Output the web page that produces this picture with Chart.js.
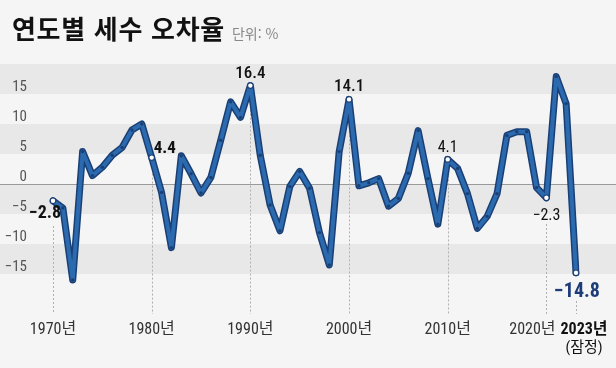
<!DOCTYPE html>
<html lang="ko">
<head>
<meta charset="utf-8">
<script src="https://cdn.jsdelivr.net/npm/chart.js@4/dist/chart.umd.min.js"></script>
<style>
  html, body { margin: 0; padding: 0; background: #f5f5f5; }
  #wrap { position: relative; width: 616px; height: 368px; }
  #title {
    position: absolute; left: 12px; top: 9px; white-space: nowrap;
    font-family: 'Noto Sans CJK KR', sans-serif; color: #111;
  }
  #title b { font-size: 26px; font-weight: 700; letter-spacing: 0.7px; }
  #title span { font-size: 14px; color: #888; margin-left: 7px; }
  canvas { position: absolute; left: 0; top: 0; }
</style>
</head>
<body>
<div id="wrap">
  <canvas id="chart" width="616" height="368"></canvas>
  <div id="title"><b>연도별 세수 오차율</b><span>단위: %</span></div>
</div>
<script>
// Data
const years = [
  1970, 1971, 1972, 1973, 1974, 1975, 1976, 1977, 1978, 1979,
  1980, 1981, 1982, 1983, 1984, 1985, 1986, 1987, 1988, 1989,
  1990, 1991, 1992, 1993, 1994, 1995, 1996, 1997, 1998, 1999,
  2000, 2001, 2002, 2003, 2004, 2005, 2006, 2007, 2008, 2009,
  2010, 2011, 2012, 2013, 2014, 2015, 2016, 2017, 2018, 2019,
  2020, 2021, 2022, 2023
];
const values = [
  -2.8, -4.0, -16.0, 5.4, 1.4, 2.8, 4.8, 6.1, 9.0, 10.0,
  4.4, -1.4, -10.6, 4.7, 1.7, -1.5, 1.1, 7.3, 13.7, 11.1,
  16.4, 4.8, -3.5, -7.8, -0.4, 2.1, -0.7, -8.1, -13.5, 5.4,
  14.1, -0.3, 0.2, 0.9, -3.7, -2.4, 1.8, 8.9, 0.9, -6.7,
  4.1, 2.6, -1.6, -7.4, -5.4, -1.6, 8.1, 8.7, 8.7, -0.6,
  -2.3, 17.9, 13.4, -14.8
];
// Years marked with a guide line and a value label
const noteYears = [1970, 1980, 1990, 2000, 2010, 2020, 2023];
const tickYears = [1970, 1980, 1990, 2000, 2010, 2020, 2023];
const tickLabels = ['1970년', '1980년', '1990년', '2000년', '2010년', '2020년', '2023년'];
const tickNote = '(잠정)';

const FONT = "'Liberation Sans Narrow', 'Roboto Condensed', 'DejaVu Sans Condensed', 'Noto Sans CJK KR', sans-serif";
const fmt = v => String(v).replace('-', '−');

// how each value label sits next to its point
const noteLayout = {
  1970: { dx: -8, dy: 17, align: 'center', font: 'bold 18px', color: '#111', guideFrom: 226 },
  1980: { dx: 2, dy: -5, align: 'left', font: 'bold 17px', color: '#111' },
  1990: { dx: 0, dy: -8, align: 'center', font: '500 17px', color: '#111' },
  2000: { dx: 0, dy: -8, align: 'center', font: '500 17px', color: '#111' },
  2010: { dx: 0, dy: -7, align: 'center', font: '16px', color: '#111' },
  2020: { dx: 0, dy: 22, align: 'center', font: '16px', color: '#111', guideFrom: 224 },
  2023: { dx: 1, dy: 24, align: 'center', font: 'bold 20px', color: '#1d3c78', guideFrom: 301 }
};
const tickShift = { 2020: -14, 2023: 8 };

const decor = {
  id: 'decor',
  beforeDraw(chart) {
    const { ctx, scales: { x, y } } = chart;
    const w = chart.width;
    ctx.save();
    ctx.fillStyle = '#f5f5f5';
    ctx.fillRect(0, 0, w, chart.height);
    // alternating bands
    ctx.fillStyle = '#e8e8e8';
    for (let v = 20; v > -20; v -= 10) {
      const t = y.getPixelForValue(v);
      const b = y.getPixelForValue(v - 5);
      ctx.fillRect(0, t, w, b - t);
    }
    // zero line
    const z = Math.round(y.getPixelForValue(0)) + 0.5;
    ctx.strokeStyle = '#9a9a9a';
    ctx.lineWidth = 1;
    ctx.beginPath();
    ctx.moveTo(0, z);
    ctx.lineTo(w, z);
    ctx.stroke();
    // dashed guides
    ctx.setLineDash([2, 2]);
    ctx.strokeStyle = '#b0b0b0';
    noteYears.forEach(yr => {
      const i = years.indexOf(yr);
      const px = Math.round(x.getPixelForValue(i)) + 0.5;
      const lay = noteLayout[yr];
      const from = lay.guideFrom || y.getPixelForValue(values[i]);
      ctx.beginPath();
      ctx.moveTo(px, from);
      ctx.lineTo(px, 314);
      ctx.stroke();
    });
    ctx.restore();
  },
  afterDatasetsDraw(chart) {
    const { ctx, scales: { x, y } } = chart;
    ctx.save();
    // value labels
    noteYears.forEach(yr => {
      const i = years.indexOf(yr);
      const lay = noteLayout[yr];
      ctx.font = lay.font + ' ' + FONT;
      ctx.fillStyle = lay.color;
      ctx.textAlign = lay.align;
      ctx.textBaseline = 'alphabetic';
      ctx.fillText(fmt(values[i]), x.getPixelForValue(i) + lay.dx, y.getPixelForValue(values[i]) + lay.dy);
    });
    // year labels
    ctx.textAlign = 'center';
    tickYears.forEach((yr, k) => {
      const i = years.indexOf(yr);
      const px = x.getPixelForValue(i) + (tickShift[yr] || 0);
      const last = k === tickYears.length - 1;
      ctx.font = (last ? 'bold ' : '') + '16px ' + FONT;
      ctx.fillStyle = last ? '#111' : '#333';
      ctx.fillText(tickLabels[k], px, 334);
      if (last) {
        ctx.font = '15px ' + FONT;
        ctx.fillText(tickNote, px, 352);
      }
    });
    ctx.restore();
  }
};

const isNote = c => noteYears.includes(years[c.dataIndex]);

new Chart(document.getElementById('chart'), {
  type: 'line',
  data: {
    labels: years,
    datasets: [
      {
        // inner lighter stroke with vertex marks (drawn on top)
        data: values,
        order: 0,
        borderColor: '#2b6aaf',
        borderWidth: 4,
        borderJoinStyle: 'round',
        pointRadius: c => isNote(c) ? 2.8 : 1.7,
        pointBackgroundColor: c => isNote(c) ? '#ffffff' : '#1a3f74',
        pointBorderColor: '#1a3f74',
        pointBorderWidth: c => isNote(c) ? 1.2 : 0,
        tension: 0
      },
      {
        // dark outline
        data: values,
        order: 1,
        borderColor: '#1a3f74',
        borderWidth: 7,
        borderJoinStyle: 'round',
        borderCapStyle: 'round',
        pointRadius: 0,
        tension: 0
      }
    ]
  },
  options: {
    responsive: false,
    animation: false,
    layout: { padding: { top: 64, bottom: 64, left: 0, right: 40 } },
    plugins: { legend: { display: false }, tooltip: { enabled: false } },
    scales: {
      x: { display: false, offset: false },
      y: {
        min: -20,
        max: 20,
        afterFit: s => { s.width = 53; },
        grid: { display: false, drawTicks: false },
        border: { display: false },
        ticks: {
          stepSize: 5,
          padding: 26,
          labelOffset: -7,
          color: '#555',
          font: { family: FONT, size: 15 },
          callback: v => Math.abs(v) === 20 ? '' : fmt(v)
        }
      }
    }
  },
  plugins: [decor]
});
</script>
</body>
</html>
